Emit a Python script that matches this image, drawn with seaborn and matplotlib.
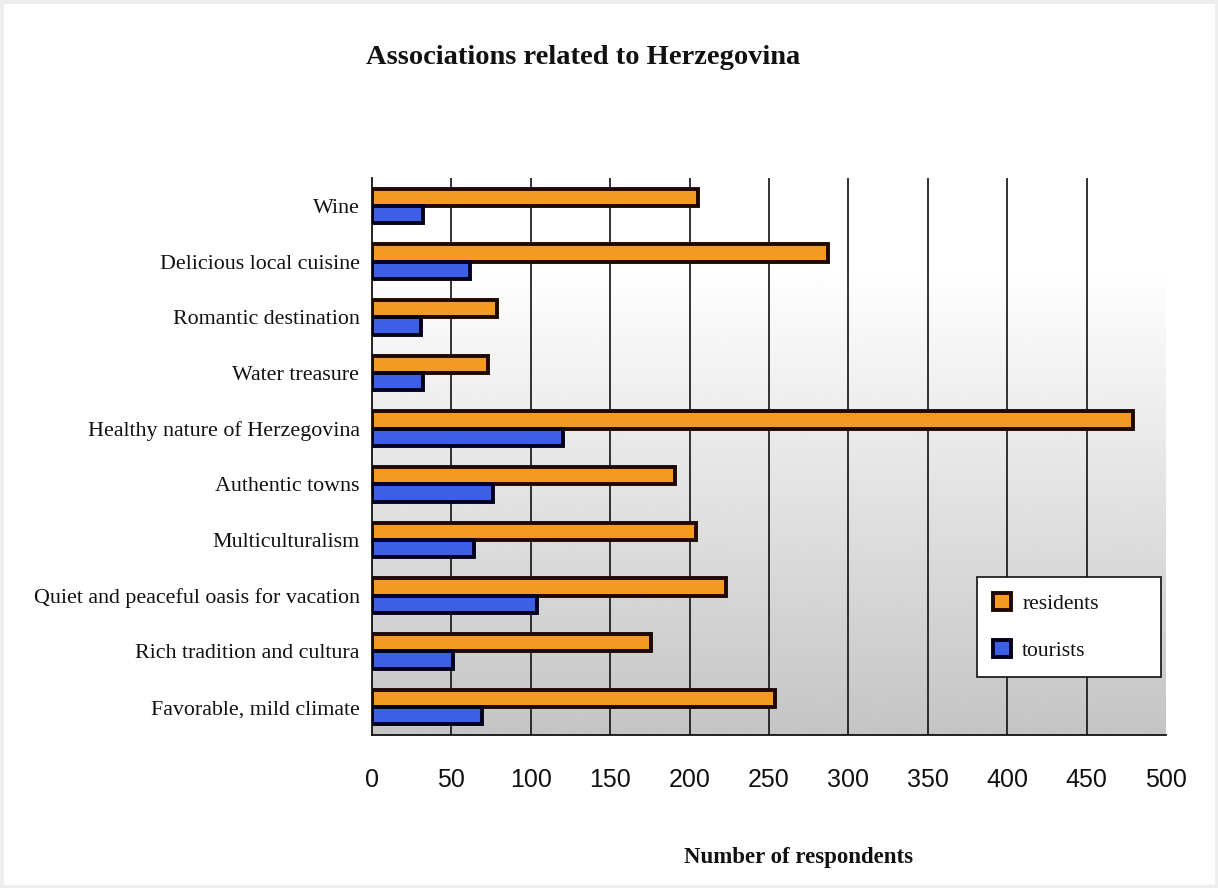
import numpy as np
import pandas as pd
import matplotlib
matplotlib.use("Agg")
import matplotlib.pyplot as plt
import seaborn as sns

categories = [
    "Wine",
    "Delicious local cuisine",
    "Romantic destination",
    "Water treasure",
    "Healthy nature of Herzegovina",
    "Authentic towns",
    "Multiculturalism",
    "Quiet and peaceful oasis for vacation",
    "Rich tradition and cultura",
    "Favorable, mild climate",
]
residents = [205, 287, 79, 73, 479, 191, 204, 223, 176, 254]
tourists = [32, 62, 31, 32, 120, 76, 64, 104, 51, 69]
x_ticks = [0, 50, 100, 150, 200, 250, 300, 350, 400, 450, 500]

df = pd.DataFrame({
    "association": categories * 2,
    "group": ["residents"] * len(categories) + ["tourists"] * len(categories),
    "count": residents + tourists,
})

sns.set_theme(style="white")
serif = ["Liberation Serif", "DejaVu Serif"]
sans = ["Liberation Sans", "DejaVu Sans"]

fig = plt.figure(figsize=(12.18, 8.88), dpi=100)
fig.patch.set_facecolor("white")

# faint grey frame around the whole figure
fig.patches.append(plt.Rectangle((0, 0), 1, 1, transform=fig.transFigure,
                                 fill=False, edgecolor="#eeeeee",
                                 linewidth=5, zorder=0))

ax = fig.add_axes([372 / 1218, 1 - 735 / 888, 794 / 1218, 557 / 888])

# vertical white-to-grey gradient behind the bars
grad = np.concatenate([np.ones(40), np.linspace(1.0, 0.77, 216)]).reshape(-1, 1)
ax.imshow(grad, cmap="gray", vmin=0, vmax=1, aspect="auto",
          extent=[0, 500, 9.5, -0.5], zorder=0, interpolation="bilinear")

colors = {"residents": "#F49A22", "tourists": "#3C5FE6"}
sns.barplot(data=df, y="association", x="count", hue="group", orient="h",
            order=categories, hue_order=["residents", "tourists"],
            palette=colors, saturation=1, width=0.62, dodge=True, ax=ax,
            zorder=3, legend=False)

edge = {0: "#1E0800", 1: "#00001E"}
for i, cont in enumerate(ax.containers):
    for bar in cont:
        bar.set_edgecolor(edge[i])
        bar.set_linewidth(2.8)

ax.set_xlim(0, 500)
ax.set_ylim(9.5, -0.5)
ax.set_xticks(x_ticks)
ax.set_xticklabels([str(t) for t in x_ticks], fontsize=18, family=sans,
                   color="#111111")
ax.tick_params(axis="x", pad=24, length=0)
ax.tick_params(axis="y", pad=9, length=0)
for lbl in ax.get_yticklabels():
    lbl.set_fontfamily(serif)
    lbl.set_fontsize(15.8)
    lbl.set_color("#111111")

for t in x_ticks[1:-1]:
    ax.axvline(t, color="#111111", lw=1.2, zorder=1)

for s in ["top", "right"]:
    ax.spines[s].set_visible(False)
for s in ["left", "bottom"]:
    ax.spines[s].set_color("#111111")
    ax.spines[s].set_linewidth(1.3)

ax.set_ylabel("")
ax.set_xlabel("Number of respondents", fontsize=16.5, family=serif,
              fontweight="bold", color="#111111")
ax.xaxis.set_label_coords((799 - 372) / 794, -(847 - 735) / 557)

fig.text(583 / 1218, 1 - 57 / 888, "Associations related to Herzegovina",
         ha="center", va="center", fontsize=20.5, fontweight="bold",
         family=serif, color="#111111")

handles = [plt.Rectangle((0, 0), 1, 1, facecolor=colors[g],
                         edgecolor=edge[i], linewidth=2.8)
           for i, g in enumerate(["residents", "tourists"])]
leg = ax.legend(handles, ["residents", "tourists"], loc="lower left",
                bbox_to_anchor=(0.762, 0.104, 0.232, 0.17), mode="expand",
                fancybox=False, shadow=False,
                framealpha=1, edgecolor="#111111", facecolor="white",
                prop={"family": serif, "size": 15.5}, handlelength=0.85,
                handleheight=0.85, labelspacing=1.2, borderpad=0.75,
                handletextpad=0.5, borderaxespad=0)
leg.get_frame().set_linewidth(1.2)
leg.set_zorder(5)
for txt in leg.get_texts():
    txt.set_color("#111111")

fig.savefig("out.png", dpi=100, facecolor="white")
